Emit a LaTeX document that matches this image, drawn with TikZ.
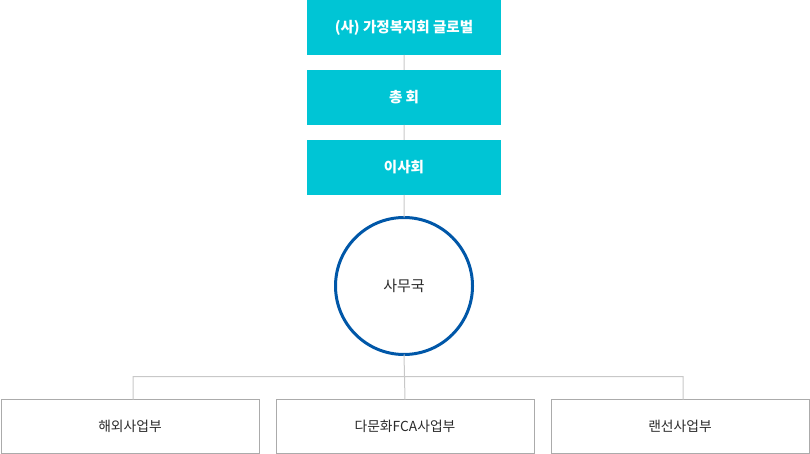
\documentclass[tikz,border=0pt]{standalone}
\usepackage{fontspec}
\setmainfont{Noto Sans CJK KR}
\usetikzlibrary{positioning}
\definecolor{boxcyan}{HTML}{00C5D5}
\definecolor{circblue}{HTML}{0057A8}
\definecolor{linegray}{HTML}{C8C8C8}
\definecolor{boxgray}{HTML}{ABABAB}
\definecolor{textgray}{HTML}{2A2A2A}

\begin{document}
\begin{tikzpicture}[x=1pt, y=1pt, node distance=15pt]
\tikzstyle{topbox}=[fill=boxcyan,text=white,minimum width=194pt,minimum height=55pt,inner sep=0pt,outer sep=0pt,font=\fontsize{14.5}{16}\selectfont\bfseries]
\tikzstyle{office}=[circle,draw=circblue,line width=3pt,fill=white,minimum size=137pt,inner sep=0pt,outer sep=0pt,text=textgray,font=\fontsize{15}{17}\selectfont]
\tikzstyle{dept}=[draw=boxgray,line width=1pt,minimum width=258pt,minimum height=54pt,inner sep=0pt,outer sep=0pt,text=textgray,font=\fontsize{13.8}{15}\selectfont]
\tikzstyle{conn}=[draw=linegray,line width=1pt]
\useasboundingbox (0,0) rectangle (810,-454);
\node[topbox]   (global)               at (404,-27.5)   {(사) 가정복지회 글로벌};
\node[topbox]   (chonghoe)[below=of global]             {총 회};
\node[topbox]   (isahoe)  [below=of chonghoe]           {이사회};
\node[office]   (samuguk) [below=22.5pt of isahoe]      {사무국};
\node[dept]     (haeoe)                at (130,-426.5)  {해외사업부};
\node[dept]     (damunhwa)[right=17pt of haeoe]         {다문화FCA사업부};
\node[dept]     (raenseon)[right=17pt of damunhwa]      {랜선사업부};
\coordinate (bar) at (405,-376.5);
\path[conn]
(global.south -| samuguk)   -- (chonghoe.north -| samuguk)
(chonghoe.south -| samuguk) -- (isahoe.north -| samuguk)
(isahoe.south -| samuguk)   -- (samuguk.north)
(samuguk.south)             -- (damunhwa.north)
([xshift=3pt]haeoe.north)   |- (bar) -| ([xshift=3pt]raenseon.north);
\end{tikzpicture}
\end{document}
